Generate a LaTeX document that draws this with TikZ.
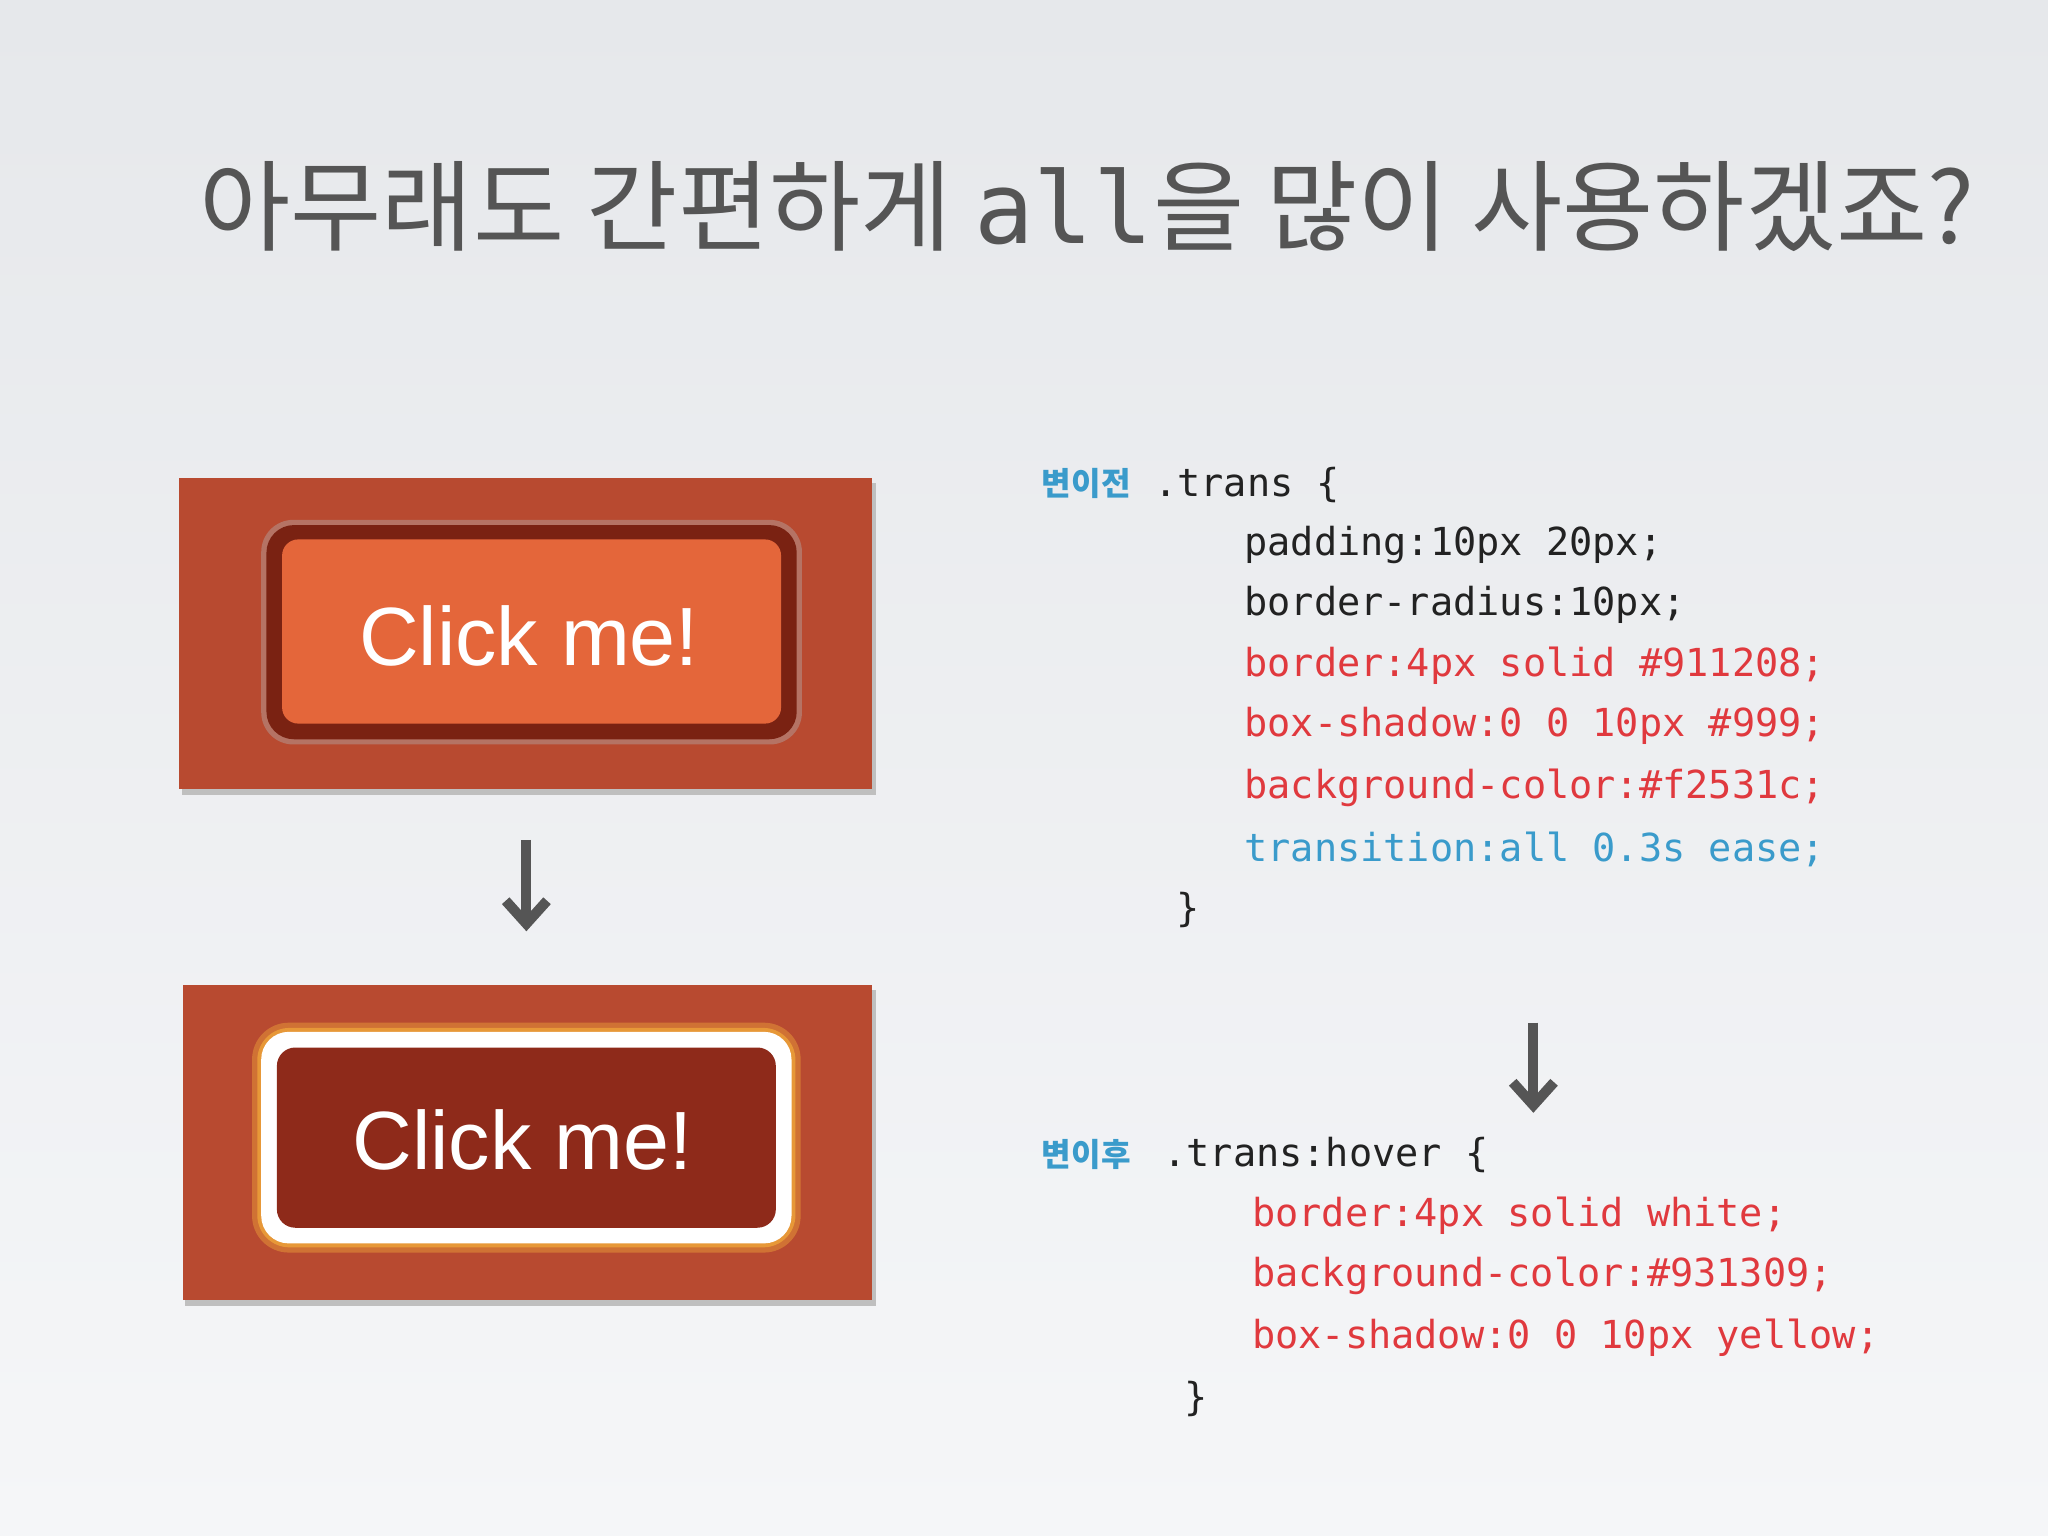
\documentclass[tikz,border=0pt]{standalone}
\usepackage{fontspec}
\setmainfont{Liberation Sans}
\setmonofont{DejaVu Sans Mono}
\newfontfamily\kr{Noto Sans CJK KR}
\usetikzlibrary{arrows.meta}
\definecolor{bgA}{HTML}{E6E8EB}
\definecolor{bgB}{HTML}{F5F6F8}
\definecolor{panel}{HTML}{B84A30}
\definecolor{ttl}{HTML}{555555}
\definecolor{cred}{HTML}{E0393E}
\definecolor{cblue}{HTML}{3A9BCB}
\definecolor{cblk}{HTML}{222222}
\definecolor{bdark}{HTML}{7A2212}
\definecolor{borange}{HTML}{E4663A}
\definecolor{bred}{HTML}{8E2A1A}
\definecolor{glow}{HTML}{FFBE3C}
\tikzset{
  code/.style={anchor=west,inner sep=0pt,font=\ttfamily\fontsize{8.4}{10}\selectfont,text=cblk},
  lbl/.style={anchor=west,inner sep=0pt,font=\kr\bfseries\fontsize{7}{8}\selectfont,text=cblue},
  btntext/.style={text=white,font=\fontsize{18}{20}\selectfont,inner sep=0pt},
  flow/.style={draw=ttl,line width=2.2pt,-{Straight Barb[length=5pt,width=9pt,line width=2.2pt]}},
}
\begin{document}
\begin{tikzpicture}[x=0.01cm,y=-0.01cm]
\shade[top color=bgA,bottom color=bgB] (0,0) rectangle (1568,1176);
\useasboundingbox (0,0) rectangle (1568,1176);
\node[anchor=west,inner sep=0pt,text=ttl,font=\kr\fontsize{21.6}{24}\selectfont] (title) at (152,158)
  {아무래도 간편하게 {\ttfamily all}을 많이 사용하겠죠?};
% top panel
\fill[black!25] (139,370) rectangle (671,609);
\fill[panel] (137,366) rectangle (668,604);
\fill[black!30,opacity=.4,rounded corners=7pt] (200,398) rectangle (614,570);
\fill[bdark,rounded corners=6pt] (204,402) rectangle (610,566);
\fill[borange,rounded corners=3.5pt] (216,413) rectangle (598,554);
\node[btntext] (b1) at (405,487) {Click me!};
% bottom panel
\fill[black!25] (142,758) rectangle (671,1000);
\fill[panel] (140,754) rectangle (668,995);
\fill[glow,opacity=.35,rounded corners=8pt] (193,783) rectangle (613,959);
\fill[glow,opacity=.5,rounded corners=7pt] (197,787) rectangle (609,955);
\fill[white,rounded corners=6pt] (200,790) rectangle (606,952);
\fill[bred,rounded corners=4pt] (212,802) rectangle (594,940);
\node[btntext] (b2) at (400,873) {Click me!};
% arrows
\coordinate (a1s) at (403,643); \coordinate (a1e) at (403,713);
\draw[flow] (a1s) -- (a1e);
\coordinate (a2s) at (1174,783); \coordinate (a2e) at (1174,852);
\draw[flow] (a2s) -- (a2e);
% code block 1
\node[lbl] (l1) at (797,370) {변이전};
\node[code] (c0) at (883,371) {.trans \{};
\node[code] (c1) at (952,417) {padding:10px 20px;};
\node[code] (c2) at (952,463) {border-radius:10px;};
\node[code,text=cred] (c3) at (952,510) {border:4px solid \#911208;};
\node[code,text=cred] (c4) at (952,556) {box-shadow:0 0 10px \#999;};
\node[code,text=cred] (c5) at (952,603) {background-color:\#f2531c;};
\node[code,text=cblue] (c6) at (952,650) {transition:all 0.3s ease;};
\node[code] (c7) at (900,697) {\}};
% code block 2
\node[lbl] (l2) at (797,884) {변이후};
\node[code] (d0) at (890,884) {.trans:hover \{};
\node[code,text=cred] (d1) at (958,931) {border:4px solid white;};
\node[code,text=cred] (d2) at (958,977) {background-color:\#931309;};
\node[code,text=cred] (d3) at (958,1024) {box-shadow:0 0 10px yellow;};
\node[code] (d4) at (906,1071) {\}};
\end{tikzpicture}
\end{document}
